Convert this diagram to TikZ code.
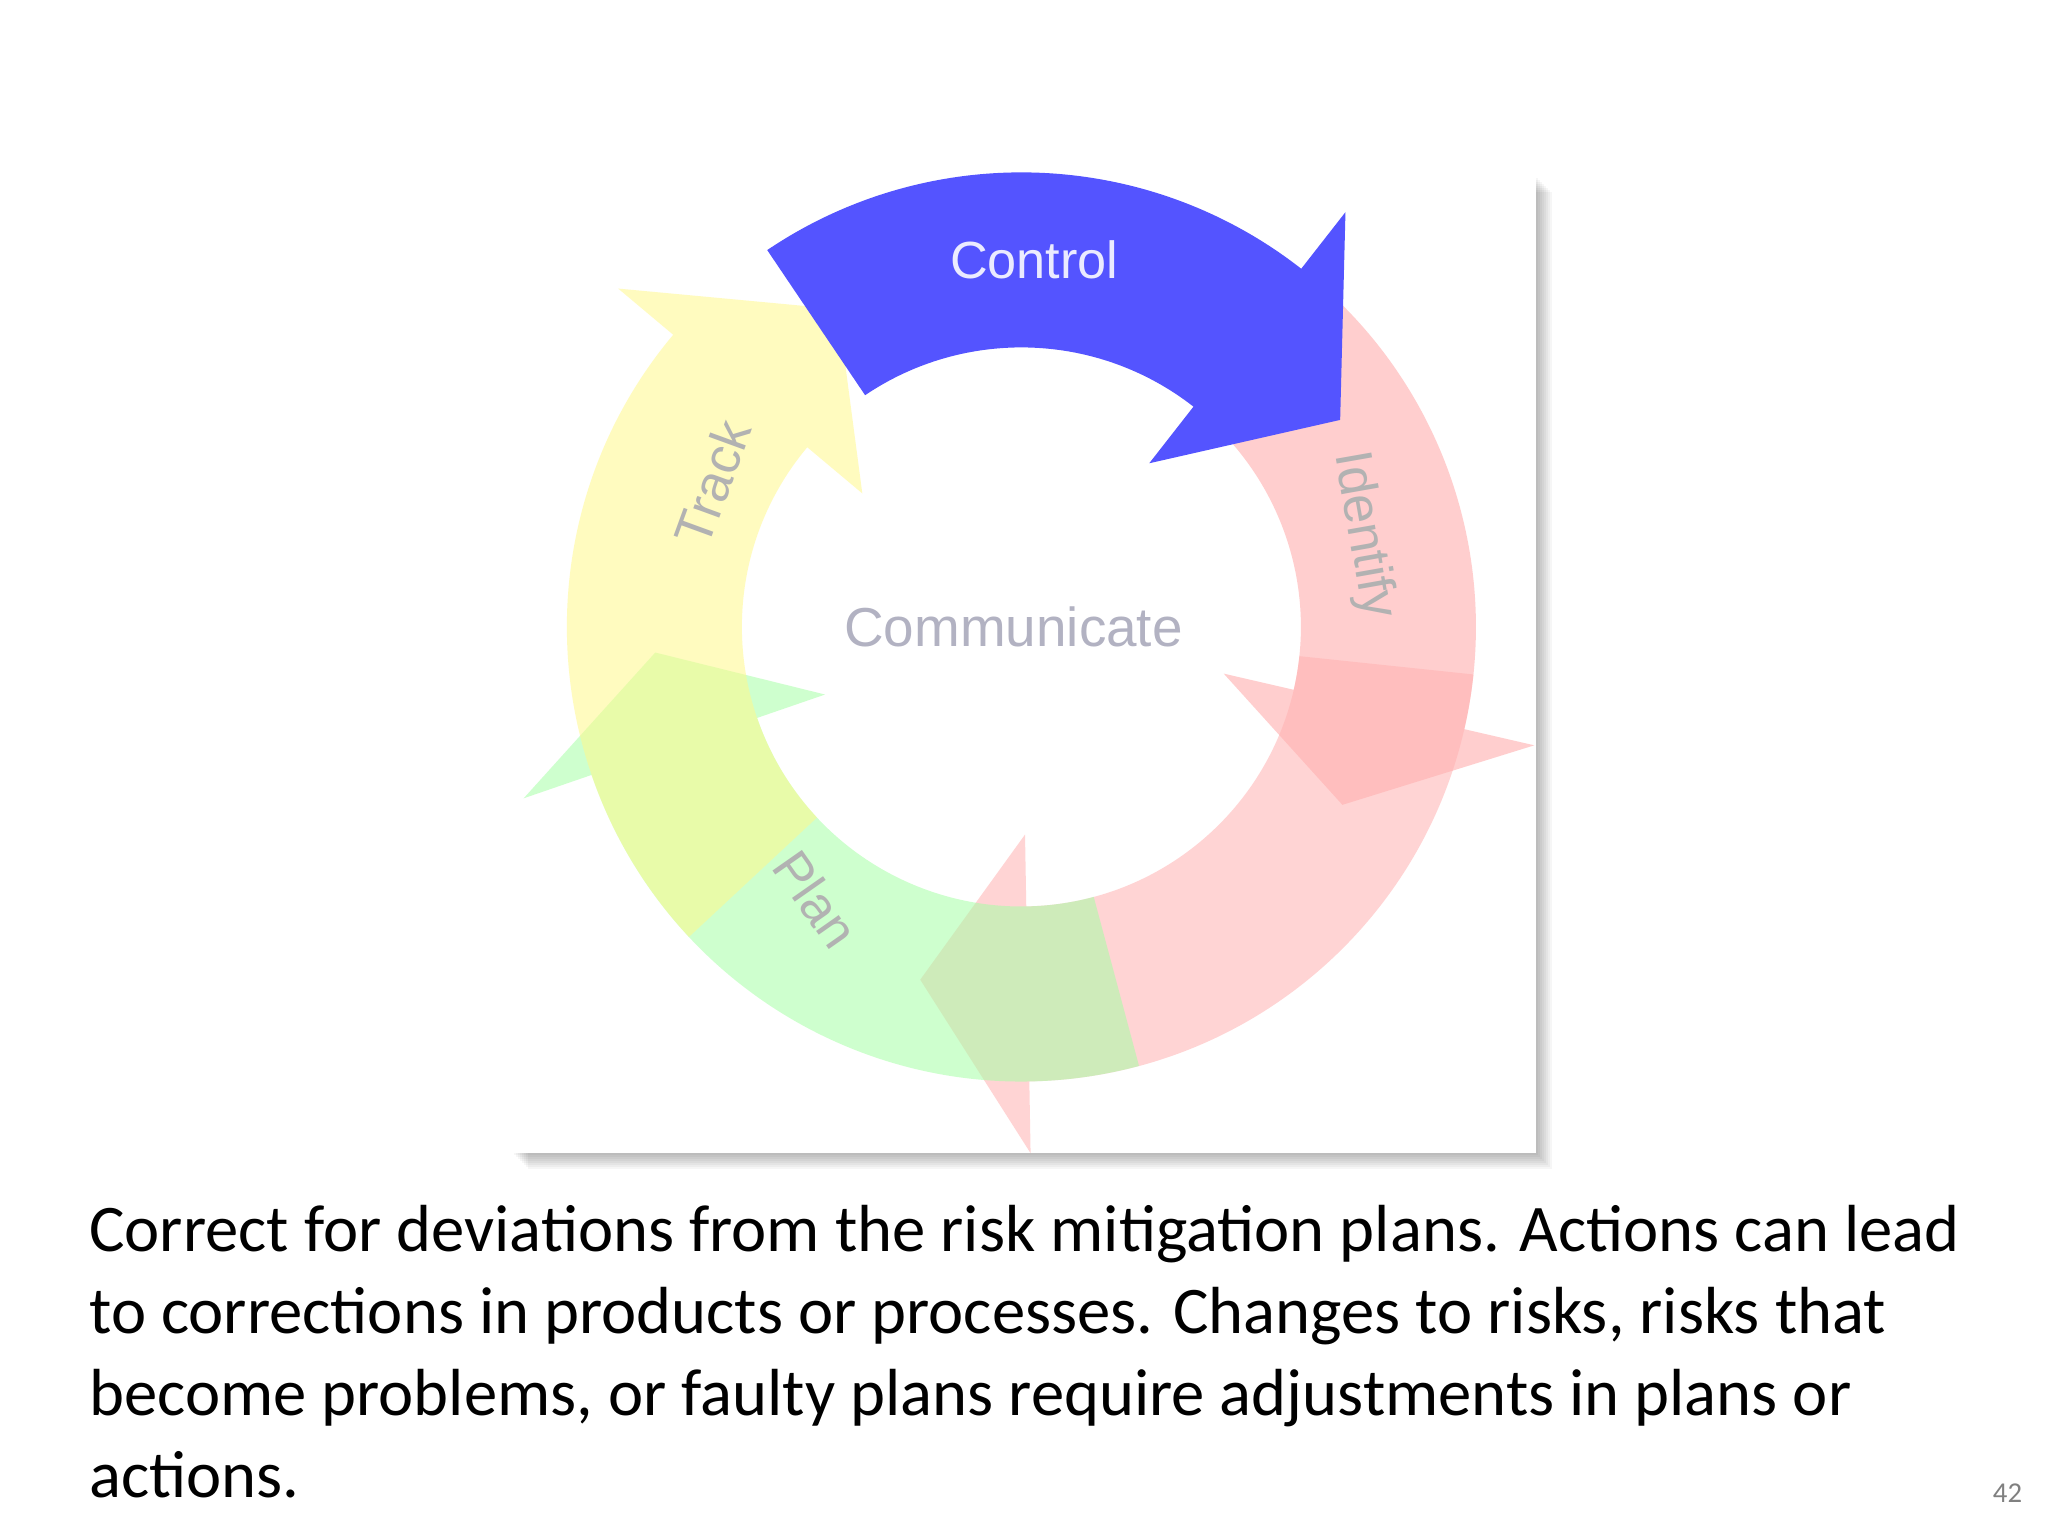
\documentclass[tikz,border=0pt]{standalone}
\usepackage{fontspec}
\setmainfont{Carlito}
\newfontfamily\lblfont{Liberation Sans}
\begin{document}
\begin{tikzpicture}[x=0.5pt,y=0.5pt,
  lbl/.style={font=\lblfont\fontsize{20}{22}\selectfont, text=black!30},
  band/.style={fill opacity=0.55}]
\useasboundingbox (0,0) rectangle (1568,1176);
\fill[white] (0,0) rectangle (1568,1176);
% photo frame with shadow
\foreach \i in {1,...,8}{\fill[black,opacity=0.035] (392+\i*1.5,293-\i*1.5) rectangle (1176+\i*1.5,1041-\i*1.5);}
\fill[white] (392,293) rectangle (1176,1041);
\def\Ro{348}\def\Ri{214}\def\Rm{281}\def\W{55}
\newcommand\arcarrow[4]{% color, start, base, tip
  \fill[#1,band] (#2:\Ro) arc[start angle=#2,end angle=#3,radius=\Ro*0.5pt] -- (#3:\Ro+\W) -- (#4:\Rm) -- (#3:\Ri-\W) -- (#3:\Ri) arc[start angle=#3,end angle=#2,radius=\Ri*0.5pt] -- cycle;}
\begin{scope}[shift={(782,696)}]
  \arcarrow{red!35}{50}{-13}{-29}
  \arcarrow{red!30}{-6}{-89}{-106}
  \arcarrow{green!35!white}{-75}{-161}{-176}
  \arcarrow{yellow!45}{-137}{-220}{-240}
  \fill[blue!67!white] (124:\Ro) arc[start angle=124,end angle=52,radius=\Ro*0.5pt] -- (52:\Ro+\W) -- (33:\Rm+10) -- (52:\Ri-\W) -- (52:\Ri) arc[start angle=52,end angle=124,radius=\Ri*0.5pt] -- cycle;
  \node[lbl,text=white!92!blue] (control) at (88:\Rm) {Control};
  \node[lbl,rotate=-80] (identify) at (15:\Rm-10) {Identify};
  \node[lbl,rotate=-55] (plan) at (-127:\Rm-20) {Plan};
  \node[lbl,rotate=70] (track) at (155:\Rm-20) {Track};
  \node[font=\lblfont\fontsize{21}{22}\selectfont, text=blue!20!black!30] (comm) at (-6,0) {Communicate};
\end{scope}
\node[anchor=north west, align=left, font=\fontsize{25.5}{31.5}\selectfont, inner sep=0] (text) at (68,1176-922)
 {Correct for deviations from the risk mitigation plans. Actions can lead\\
 to corrections in products or processes. Changes to risks, risks that\\
 become problems, or faulty plans require adjustments in plans or\\
 actions.};
\node[font=\fontsize{11}{12}\selectfont, text=black!50] (num) at (1537,33) {42};
\end{tikzpicture}
\end{document}
